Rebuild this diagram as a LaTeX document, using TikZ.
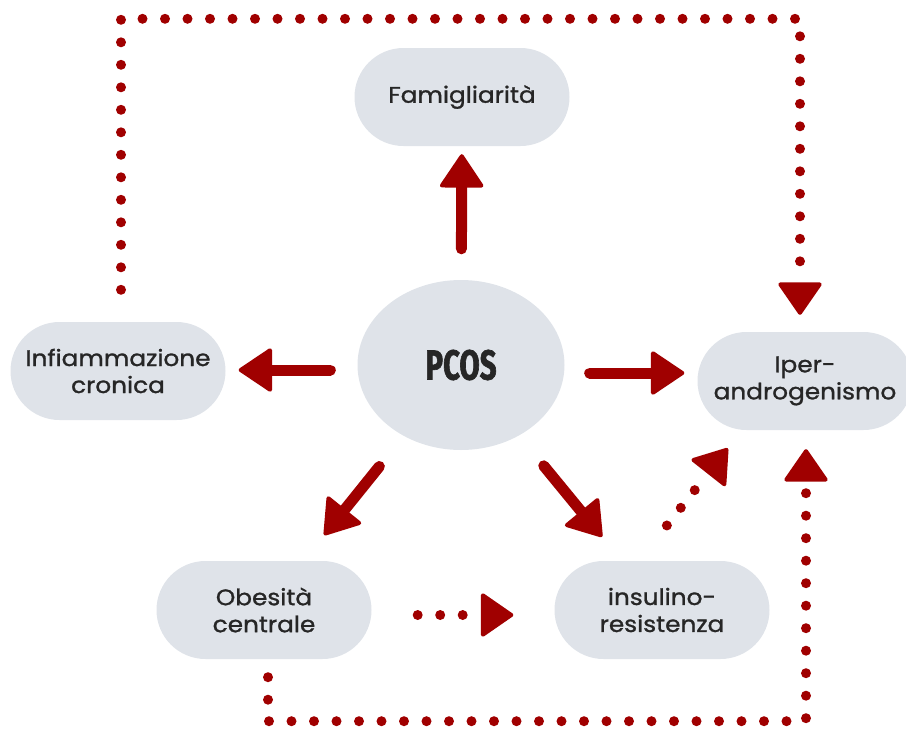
\documentclass[tikz,border=0pt]{standalone}
\usepackage{fontspec}
\setmainfont{Poppins}[FakeStretch=1.1, FakeBold=1.2]
\newfontfamily\pcosfont[FakeStretch=0.7, FakeBold=1.5]{Fira Sans}
\usetikzlibrary{arrows.meta,shapes.geometric}

\definecolor{darkred}{HTML}{A00000}
\definecolor{pillgrey}{HTML}{DFE3E9}
\definecolor{textdark}{HTML}{262626}

\tikzset{
	pill/.style={fill=pillgrey, rounded corners=49pt, minimum width=215pt, minimum height=98pt,
		inner sep=0pt, align=center, text=textdark, font=\fontsize{22.5}{27}\selectfont},
	mainarrow/.style={draw=darkred, line width=11pt, line cap=round,
		-{Triangle[width=46pt,length=35pt,round,line width=4pt]}},
	dotarrow/.style={draw=darkred, line width=10pt, line cap=round, dash pattern=on 0pt off 22.5pt,
		-{Triangle[width=46pt,length=34pt,round,line width=4pt]}},
}

\begin{document}
\begin{tikzpicture}[x=1pt,y=-1pt]
	\useasboundingbox (0,0) rectangle (906,729);
	\clip (0,0) rectangle (906,729);

	% Nodes
	\node[pill] (fam) at (462,97) {Famigliarità};
	\node[ellipse, fill=pillgrey, minimum width=207pt, minimum height=170pt, inner sep=0pt, text=textdark] (pcos) at (461,365)
		{\pcosfont\bfseries\fontsize{42}{42}\selectfont PCOS};
	\node[pill] (infl) at (118,371) {Infiammazione\\cronica};
	\node[pill] (iper) at (805,381) {Iper-\\androgenismo};
	\node[pill] (obes) at (264,610) {Obesità\\centrale};
	\node[pill] (insul) at (662,610) {insulino-\\resistenza};

	% Solid arrows out of PCOS
	\draw[mainarrow, shorten <=31pt, shorten >=8pt] (pcos) -- (fam);
	\draw[mainarrow, shorten <=25pt, shorten >=13pt] ([yshift=-8pt]pcos.east) -- ([yshift=8pt]iper.west);
	\draw[mainarrow, shorten <=27pt, shorten >=13pt] ([yshift=-5pt]pcos.west) -- ([yshift=1pt]infl.east);
	\draw[mainarrow, shorten <=39pt, shorten >=33pt] (pcos) -- (obes);
	\draw[mainarrow, shorten <=39pt, shorten >=31pt] (pcos) -- (insul);

	% Dotted arrows
	\draw[dotarrow, shorten <=46pt, shorten >=41pt] ([yshift=-5pt]obes.east) -- ([yshift=-5pt]insul.west);
	\draw[dotarrow, shorten <=45pt, shorten >=23pt] ([xshift=-23pt]insul.north) -- ([xshift=-63pt]iper.south);
	\draw[dotarrow, shorten <=18pt, shorten >=19pt] ([xshift=4pt]obes.south) -- ++(0,62) -| ([xshift=1pt]iper.south);
	\draw[dotarrow, shorten <=32pt, shorten >=17pt] ([xshift=3pt]infl.north) -- ++(0,-303) -| ([xshift=-5pt]iper.north);
\end{tikzpicture}
\end{document}
